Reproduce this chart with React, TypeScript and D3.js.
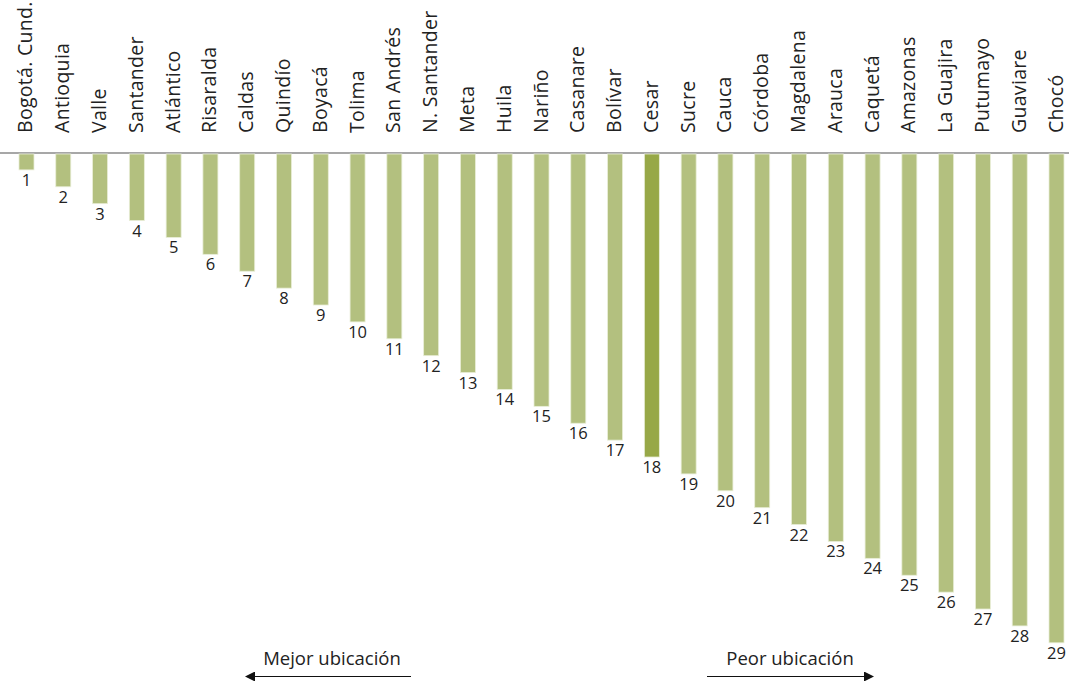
import React, { useEffect, useRef } from "react";
import * as d3 from "d3";

const departments: string[] = [
  "Bogotá. Cund.", "Antioquia", "Valle", "Santander", "Atlántico", "Risaralda",
  "Caldas", "Quindío", "Boyacá", "Tolima", "San Andrés", "N. Santander", "Meta",
  "Huila", "Nariño", "Casanare", "Bolívar", "Cesar", "Sucre", "Cauca", "Córdoba",
  "Magdalena", "Arauca", "Caquetá", "Amazonas", "La Guajira", "Putumayo",
  "Guaviare", "Chocó",
];
const ranks: number[] = [
  1, 2, 3, 4, 5, 6, 7, 8, 9, 10, 11, 12, 13, 14, 15, 16, 17, 18, 19, 20, 21, 22,
  23, 24, 25, 26, 27, 28, 29,
];
const highlight = "Cesar";
const leftArrowLabel = "Mejor ubicación";
const rightArrowLabel = "Peor ubicación";

const W = 1069;
const H = 681;
const FONT = "'Open Sans', 'Noto Sans', sans-serif";

export default function App() {
  const ref = useRef<SVGSVGElement>(null);

  useEffect(() => {
    const svg = d3.select(ref.current);
    svg.selectAll("*").remove();

    const axisY = 153;
    const x = d3
      .scaleBand<string>()
      .domain(departments)
      .range([8.1, 1074.9])
      .paddingInner(0.592)
      .paddingOuter(0.296);
    const y = d3.scaleLinear().domain([0, 29]).range([axisY, axisY + 29 * 16.89]);

    const data = departments.map((d, i) => ({ name: d, rank: ranks[i] }));

    // axis line
    svg
      .append("line")
      .attr("x1", 0)
      .attr("x2", W)
      .attr("y1", axisY)
      .attr("y2", axisY)
      .attr("stroke", "#8a8a8a")
      .attr("stroke-width", 1.5);

    // bars
    svg
      .append("g")
      .selectAll("rect")
      .data(data)
      .join("rect")
      .attr("x", (d) => x(d.name)!)
      .attr("y", axisY + 1)
      .attr("width", x.bandwidth())
      .attr("height", (d) => y(d.rank) - axisY - 1)
      .attr("fill", (d) => (d.name === highlight ? "#97a847" : "#b3c07f"))
      .attr("stroke", "#e9eed8")
      .attr("stroke-width", 0.8);

    // rank labels
    svg
      .append("g")
      .selectAll("text")
      .data(data)
      .join("text")
      .attr("x", (d) => x(d.name)! + x.bandwidth() / 2)
      .attr("y", (d) => y(d.rank) + 16)
      .attr("text-anchor", "middle")
      .attr("font-family", FONT)
      .attr("font-size", 16.5)
      .attr("fill", "#222")
      .text((d) => String(d.rank));

    // category labels (rotated)
    svg
      .append("g")
      .selectAll("text")
      .data(data)
      .join("text")
      .attr("transform", (d) => {
        const cx = x(d.name)! + x.bandwidth() / 2 + 6;
        return `translate(${cx},133) rotate(-90)`;
      })
      .attr("text-anchor", "start")
      .attr("font-family", FONT)
      .attr("font-size", 19.5)
      .attr("letter-spacing", 0.3)
      .attr("fill", "#222")
      .text((d) => d.name);

    // arrows
    const defs = svg.append("defs");
    defs
      .append("marker")
      .attr("id", "arrowHead")
      .attr("viewBox", "0 0 10 10")
      .attr("refX", 9)
      .attr("refY", 5)
      .attr("markerWidth", 12)
      .attr("markerHeight", 10)
      .attr("markerUnits", "userSpaceOnUse")
      .attr("orient", "auto")
      .append("path")
      .attr("d", "M0,0 L10,5 L0,10 Z")
      .attr("fill", "#111");

    const arrows = [
      { label: leftArrowLabel, from: 411, to: 246, cx: 332 },
      { label: rightArrowLabel, from: 707, to: 873, cx: 790 },
    ];
    arrows.forEach((a) => {
      svg
        .append("line")
        .attr("x1", a.from)
        .attr("x2", a.to)
        .attr("y1", 676.5)
        .attr("y2", 676.5)
        .attr("stroke", "#111")
        .attr("stroke-width", 1.2)
        .attr("marker-end", "url(#arrowHead)");
      svg
        .append("text")
        .attr("x", a.cx)
        .attr("y", 665)
        .attr("text-anchor", "middle")
        .attr("font-family", FONT)
        .attr("font-size", 18.5)
        .attr("fill", "#222")
        .text(a.label);
    });
  }, []);

  return (
    <svg
      ref={ref}
      width={W}
      height={H}
      style={{ position: "absolute", left: 0, top: 0, display: "block", background: "#fff" }}
    />
  );
}
